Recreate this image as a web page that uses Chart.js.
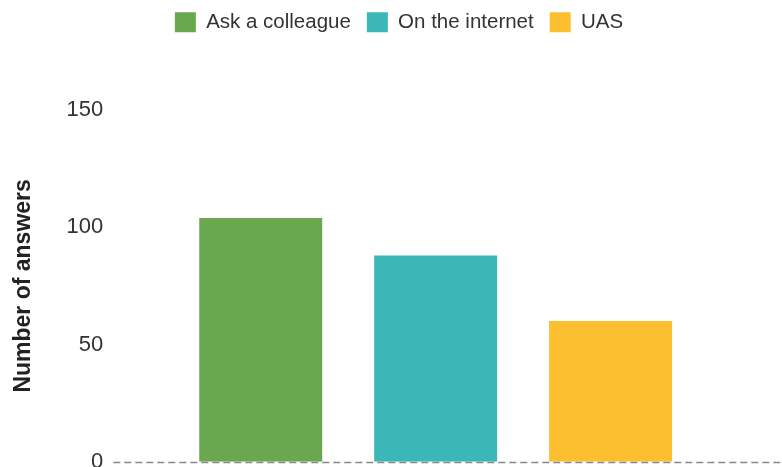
<!DOCTYPE html>
<html>
<head>
<meta charset="utf-8">
<script src="https://cdn.jsdelivr.net/npm/chart.js@4/dist/chart.umd.min.js"></script>
<style>
    html, body { margin: 0; padding: 0; background: #fff; overflow: hidden; }
    /* canvas is a bit taller than the window, the bottom gets cut like in the reference */
    #wrap { width: 782px; height: 485px; position: relative; }
</style>
</head>
<body>
<div id="wrap"><canvas id="answers-chart"></canvas></div>
<script>
const categories = [''];
const seriesNames = ['Ask a colleague', 'On the internet', 'UAS'];
const answerCounts = [104, 88, 60];
const yTicks = [0, 50, 100, 150];

const seriesColors = ['#6aa84f', '#3cb7b8', '#fbbf2f'];
const FONT = "'Liberation Sans', Arial, Helvetica, sans-serif";

// small layout fixes: legend position + dashed zero line across the full width
const layoutTweaks = {
    id: 'layoutTweaks',
    afterLayout(chart) {
        const legend = chart.legend;
        if (!legend) return;
        const dy = -4 - legend.top;
        legend.left += 20;
        legend.right += 20;
        legend.top += dy;
        legend.bottom += dy;
    },
    afterDatasetsDraw(chart) {
        const ctx = chart.ctx;
        const y = Math.round(chart.scales.y.getPixelForValue(yTicks[0])) + 0.5;
        ctx.save();
        ctx.strokeStyle = '#888';
        ctx.lineWidth = 1.5;
        ctx.setLineDash([7, 4]);
        ctx.beginPath();
        ctx.moveTo(chart.chartArea.left, y);
        ctx.lineTo(chart.width, y);
        ctx.stroke();
        ctx.restore();
    }
};

const datasets = seriesNames.map((name, i) => ({
    label: name,
    data: [answerCounts[i]],
    backgroundColor: seriesColors[i],
    borderWidth: 0,
    categoryPercentage: 0.814,
    barPercentage: 0.703,
}));

new Chart(document.getElementById('answers-chart'), {
    type: 'bar',
    data: { labels: categories, datasets },
    plugins: [layoutTweaks],
    options: {
        responsive: true,
        maintainAspectRatio: false,
        animation: false,
        layout: { padding: { left: 0, right: 24, top: 0, bottom: 0 } },
        plugins: {
            legend: {
                position: 'top',
                labels: {
                    boxWidth: 21,
                    boxHeight: 20,
                    padding: 16,
                    color: '#333',
                    font: { family: FONT, size: 20.5 }
                }
            },
            tooltip: { enabled: false }
        },
        scales: {
            x: { display: false },
            y: {
                min: 0,
                max: 150,
                afterBuildTicks: (scale) => { scale.ticks = yTicks.map(v => ({ value: v })); },
                afterFit: (scale) => { scale.paddingTop = 110; },
                grid: { display: false, drawTicks: false },
                border: { display: false },
                ticks: {
                    padding: 10,
                    color: '#333',
                    font: { family: FONT, size: 22 }
                },
                title: {
                    display: true,
                    text: 'Number of answers',
                    color: '#222',
                    padding: { top: 10, bottom: 19 },
                    font: { family: FONT, size: 23, weight: 'bold' }
                }
            }
        }
    }
});
</script>
</body>
</html>
